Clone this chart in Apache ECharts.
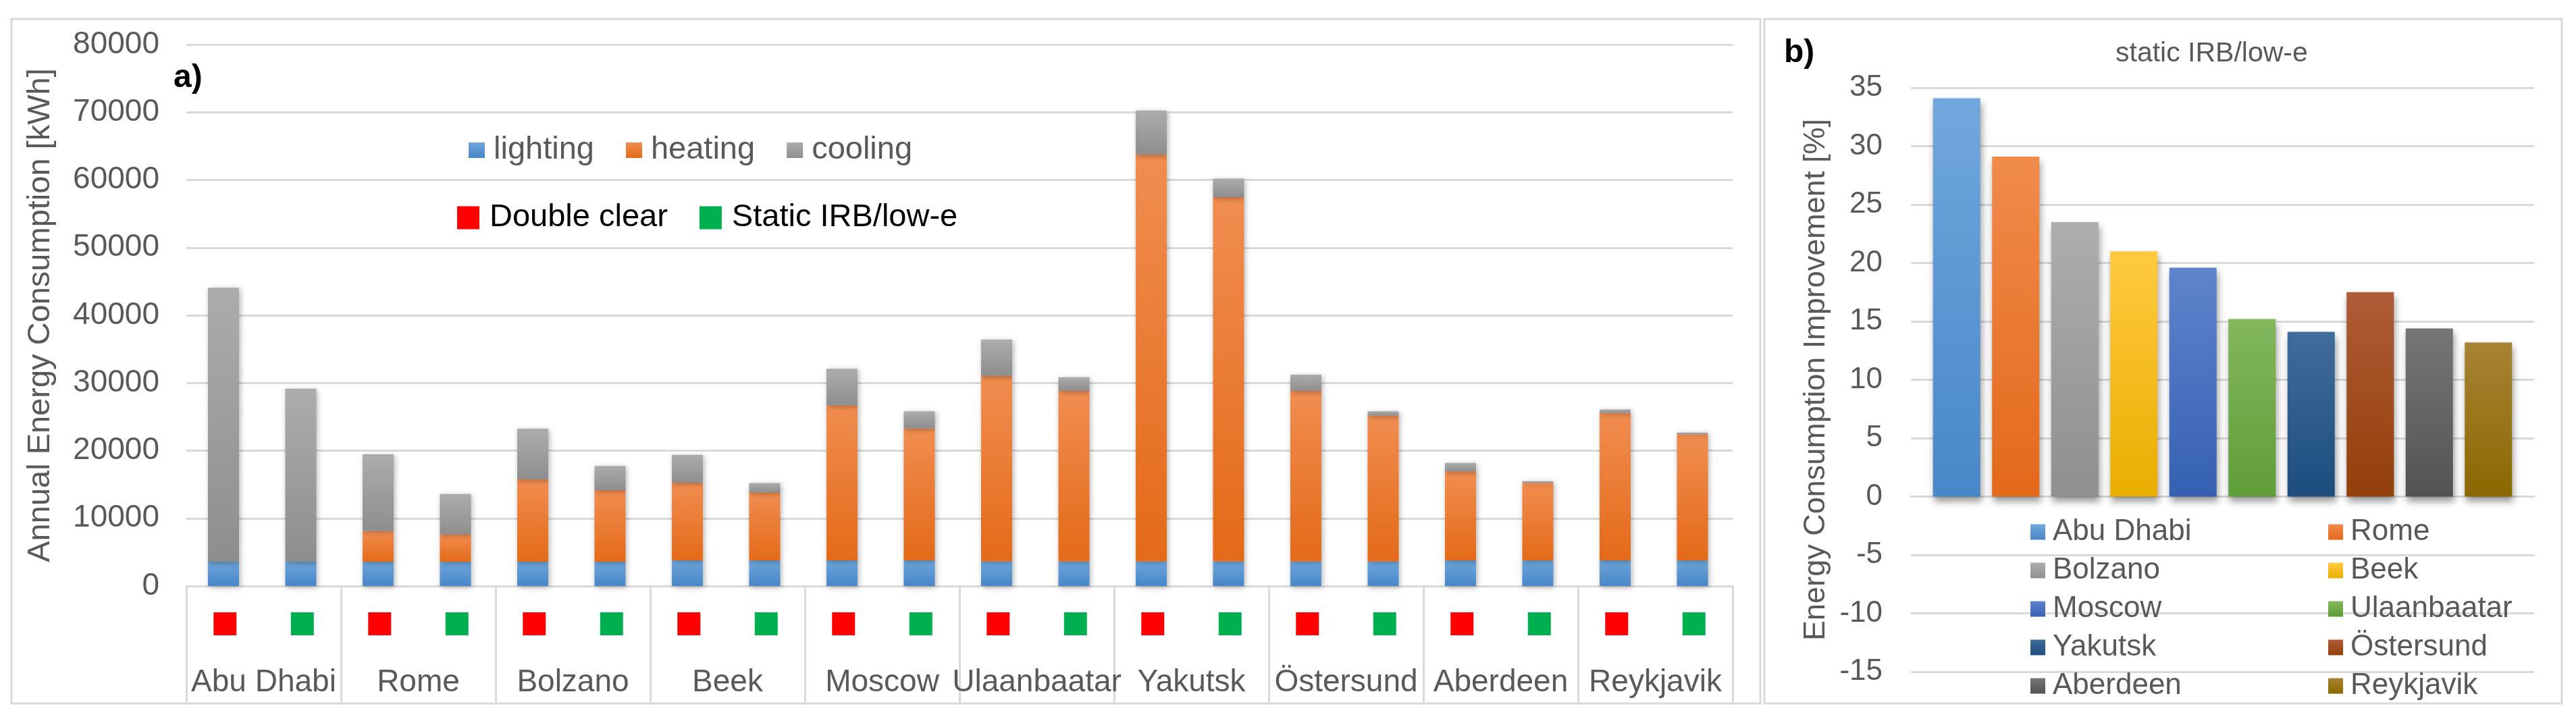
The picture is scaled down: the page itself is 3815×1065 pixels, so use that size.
<!DOCTYPE html>
<html>
<head>
<meta charset="utf-8">
<script src="https://cdn.jsdelivr.net/npm/echarts@6/dist/echarts.min.js"></script>
<style>
html,body{margin:0;padding:0;background:#fff;}
#chart{width:3815px;height:1065px;}
</style>
</head>
<body>
<div id="chart"></div>
<script>
// ---------- data ----------
const cities = ['Abu Dhabi','Rome','Bolzano','Beek','Moscow','Ulaanbaatar','Yakutsk','Östersund','Aberdeen','Reykjavik'];
const glazings = ['Double clear','Static IRB/low-e'];
const endUses = ['lighting','heating','cooling'];
// pairs: [Double clear, Static IRB/low-e] per city, kWh
const lighting = [3600,3600, 3600,3600, 3600,3600, 3800,3800, 3800,3800, 3650,3650, 3650,3650, 3650,3650, 3800,3800, 3800,3800];
const heating  = [0,0, 4530,4060, 12180,10560, 11450,10040, 22900,19490, 27400,25200, 60120,53810, 25200,21540, 13130,11440, 21750,18620];
const cooling  = [40470,25540, 11310,5930, 7450,3560, 4120,1360, 5390,2510, 5350,1990, 6490,2730, 2380,610, 1250,250, 540,260];
const improvement = [34.1, 29.1, 23.5, 21.0, 19.6, 15.2, 14.1, 17.5, 14.4, 13.2];
const yTicksA = {min:0, max:80000, interval:10000};
const yTicksB = {min:-15, max:35, interval:5};

// ---------- styles ----------
const FONT = '"Liberation Sans", Arial, sans-serif';
const GRID_C = '#D9D9D9';
const TXT = '#595959';
function grad(top, bottom){
  return new echarts.graphic.LinearGradient(0,0,0,1,[{offset:0,color:top},{offset:1,color:bottom}]);
}
const useColors = {
  lighting: grad('#6EA6DC','#4886C8'),
  heating: grad('#F18D50','#E46A18'),
  cooling: grad('#ACACAC','#8E8E8E')
};
const cityColors = [
  ['#71A8DD','#4887C8'], ['#F18B4C','#E3691A'], ['#AEAEAE','#8F8F8F'], ['#FFCA40','#E9AE00'],
  ['#6084CC','#3560B3'], ['#82B75E','#5F9E38'], ['#406C9B','#1C4D7E'], ['#AF5C39','#933F08'],
  ['#767676','#535353'], ['#A98335','#8B6800']
];
const glazeColors = ['#FF0000','#00B050'];

const catA = [];
cities.forEach(c => glazings.forEach(g => catA.push(c + '|' + g)));

const chart = echarts.init(document.getElementById('chart'), null, {renderer:'canvas'});

const series = [];
endUses.forEach((u, i) => {
  series.push({
    name: u, type: 'bar', stack: 'total', xAxisIndex: 0, yAxisIndex: 0,
    barWidth: 46,
    data: [lighting, heating, cooling][i],
    itemStyle: {color: useColors[u], shadowColor:'rgba(0,0,0,0.30)', shadowBlur:8, shadowOffsetX:2, shadowOffsetY:2},
    silent: true
  });
});
glazings.forEach((g, i) => {
  series.push({name: g, type: 'bar', xAxisIndex: 0, yAxisIndex: 0, data: [], itemStyle:{color: glazeColors[i]}});
});
cities.forEach((c, i) => {
  series.push({
    name: c, type: 'bar', xAxisIndex: 2, yAxisIndex: 1,
    barWidth: 70, barGap: '25%',
    data: [improvement[i]],
    itemStyle: {color: grad(cityColors[i][0], cityColors[i][1]), shadowColor:'rgba(0,0,0,0.40)', shadowBlur:10, shadowOffsetX:2, shadowOffsetY:7},
    silent: true
  });
});

const option = {
  animation: false,
  backgroundColor: '#fff',
  textStyle: {fontFamily: FONT},
  title: [
    {text:'a)', left:257, top:92, padding:0, textStyle:{fontFamily:FONT, fontWeight:'bold', fontSize:48, color:'#000'}},
    {text:'b)', left:2642, top:55, padding:0, textStyle:{fontFamily:FONT, fontWeight:'bold', fontSize:48, color:'#000'}},
    {text:'static IRB/low-e', left:3133, top:59, padding:0, textStyle:{fontFamily:FONT, fontWeight:'normal', fontSize:41, color:TXT}}
  ],
  graphic: [
    {type:'rect', shape:{x:17, y:28, width:2590, height:1014}, style:{fill:'none', stroke:GRID_C, lineWidth:3}, silent:true, z:-1},
    {type:'rect', shape:{x:2613, y:28, width:1181, height:1014}, style:{fill:'none', stroke:GRID_C, lineWidth:3}, silent:true, z:-1}
  ],
  legend: [
    {data: endUses, icon:'rect', left:689, top:194, orient:'horizontal', itemWidth:24, itemHeight:23, itemGap:47,
     textStyle:{fontFamily:FONT, fontSize:47, color:TXT, lineHeight:47, padding:[0,0,0,8]}, selectedMode:false},
    {data: glazings, icon:'rect', left:672, top:294, orient:'horizontal', itemWidth:33, itemHeight:34, itemGap:47,
     textStyle:{fontFamily:FONT, fontSize:47, color:'#000', lineHeight:47, padding:[0,0,0,10]}, selectedMode:false},
    {data: cities.filter((c,i)=>i%2===0), icon:'rect', left:3002, top:761, orient:'vertical', itemWidth:22, itemHeight:23, itemGap:13,
     textStyle:{fontFamily:FONT, fontSize:44, color:TXT, lineHeight:44, padding:[0,0,0,6]}, selectedMode:false},
    {data: cities.filter((c,i)=>i%2===1), icon:'rect', left:3443, top:761, orient:'vertical', itemWidth:22, itemHeight:23, itemGap:13,
     textStyle:{fontFamily:FONT, fontSize:44, color:TXT, lineHeight:44, padding:[0,0,0,6]}, selectedMode:false}
  ],
  grid: [
    {left:276, top:66, width:2290, height:802},
    {left:2830, top:130, width:923, height:865}
  ],
  xAxis: [
    {type:'category', gridIndex:0, data:catA, position:'bottom',
     axisLine:{show:true, lineStyle:{color:GRID_C, width:3}},
     axisTick:{show:false},
     axisLabel:{interval:0, margin:39,
       formatter: v => (v.split('|')[1] === glazings[0]) ? '{r| }' : '{g| }',
       rich:{r:{backgroundColor:glazeColors[0], width:34, height:34, fontSize:1},
             g:{backgroundColor:glazeColors[1], width:34, height:34, fontSize:1}}},
     splitLine:{show:false}},
    {type:'category', gridIndex:0, data:cities, position:'bottom',
     axisLine:{show:false},
     axisTick:{show:true, interval:0, length:174, lineStyle:{color:GRID_C, width:3}},
     axisLabel:{interval:0, margin:120, fontFamily:FONT, fontSize:46, color:TXT, lineHeight:46},
     splitLine:{show:false}},
    {type:'category', gridIndex:1, data:[''],
     axisLine:{show:true, onZero:true, lineStyle:{color:GRID_C, width:3}},
     axisTick:{show:false}, axisLabel:{show:false}, splitLine:{show:false}}
  ],
  yAxis: [
    {type:'value', gridIndex:0, min:yTicksA.min, max:yTicksA.max, interval:yTicksA.interval,
     name:'Annual Energy Consumption [kWh]', nameLocation:'middle', nameRotate:90, nameGap:192,
     nameTextStyle:{fontFamily:FONT, fontSize:47, color:TXT},
     axisLine:{show:false}, axisTick:{show:false},
     axisLabel:{margin:40, fontFamily:FONT, fontSize:46, color:TXT, formatter: v => String(v)},
     splitLine:{show:true, lineStyle:{color:GRID_C, width:3}}},
    {type:'value', gridIndex:1, min:yTicksB.min, max:yTicksB.max, interval:yTicksB.interval,
     name:'Energy Consumption Improvement [%]', nameLocation:'middle', nameRotate:90, nameGap:118,
     nameTextStyle:{fontFamily:FONT, fontSize:45, color:TXT},
     axisLine:{show:false}, axisTick:{show:false},
     axisLabel:{margin:42, fontFamily:FONT, fontSize:44, color:TXT, formatter: v => String(v)},
     splitLine:{show:true, lineStyle:{color:GRID_C, width:3}}}
  ],
  series: series
};
chart.setOption(option);
</script>
</body>
</html>
